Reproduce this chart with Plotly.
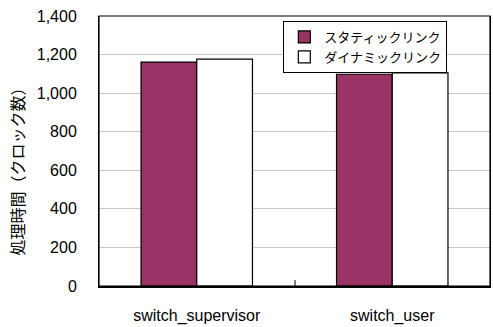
import plotly.graph_objects as go

categories = ["switch_supervisor", "switch_user"]
static_vals = [1161, 1098]
dynamic_vals = [1176, 1105]
series_names = ["スタティックリンク", "ダイナミックリンク"]
y_ticks = [0, 200, 400, 600, 800, 1000, 1200, 1400]
y_title = "処理時間（クロック数）"

FONT = "Liberation Sans, Arial, Noto Sans CJK JP, sans-serif"

fig = go.Figure()
fig.add_bar(x=categories, y=static_vals, name=series_names[0],
            marker=dict(color="#993366", line=dict(color="black", width=1.2)))
fig.add_bar(x=categories, y=dynamic_vals, name=series_names[1],
            marker=dict(color="white", line=dict(color="black", width=1.2)))

L, R, T, B = 99, 2, 16, 38
W, H = 493, 327
pw = W - L - R
ph = H - T - B

fig.update_layout(
    width=W, height=H,
    margin=dict(l=L, r=R, t=T, b=B, pad=0),
    paper_bgcolor="white", plot_bgcolor="white",
    barmode="group", bargap=0.43, bargroupgap=0,
    font=dict(family=FONT, size=16, color="black"),
    showlegend=True,
    legend=dict(
        x=(366 - L) / pw, xanchor="center",
        y=(H - B - 21) / ph, yanchor="top",
        bgcolor="white", bordercolor="black", borderwidth=1,
        font=dict(family="Noto Sans CJK JP, sans-serif", size=13),
        itemwidth=30, tracegroupgap=0,
    ),
    xaxis=dict(
        showline=True, linecolor="black", linewidth=2, mirror=False,
        ticks="inside", tickson="boundaries", ticklen=6, tickcolor="#808080",
        tickwidth=2, ticklabelstandoff=14,
        tickfont=dict(family=FONT, size=16),
    ),
    yaxis=dict(
        range=[0, 1400], tickvals=y_ticks, tickformat=",d",
        showline=True, linecolor="black", linewidth=1, mirror=True,
        showgrid=True, gridcolor="#c8c8c8", gridwidth=1,
        ticks="", ticklabelstandoff=18, zeroline=False,
        tickfont=dict(family=FONT, size=16),
    ),
)
fig.add_shape(type="rect", xref="paper", yref="paper", x0=0, x1=1, y0=0, y1=1,
              line=dict(color="black", width=1.2), fillcolor="rgba(0,0,0,0)", layer="above")

fig.add_annotation(
    text=y_title, textangle=-90, showarrow=False,
    xref="paper", yref="paper",
    x=(17 - L) / pw, y=(H - B - 169) / ph,
    xanchor="center", yanchor="middle",
    font=dict(family="Noto Sans CJK JP, sans-serif", size=16, color="black"),
)

fig.write_html("out.html")
